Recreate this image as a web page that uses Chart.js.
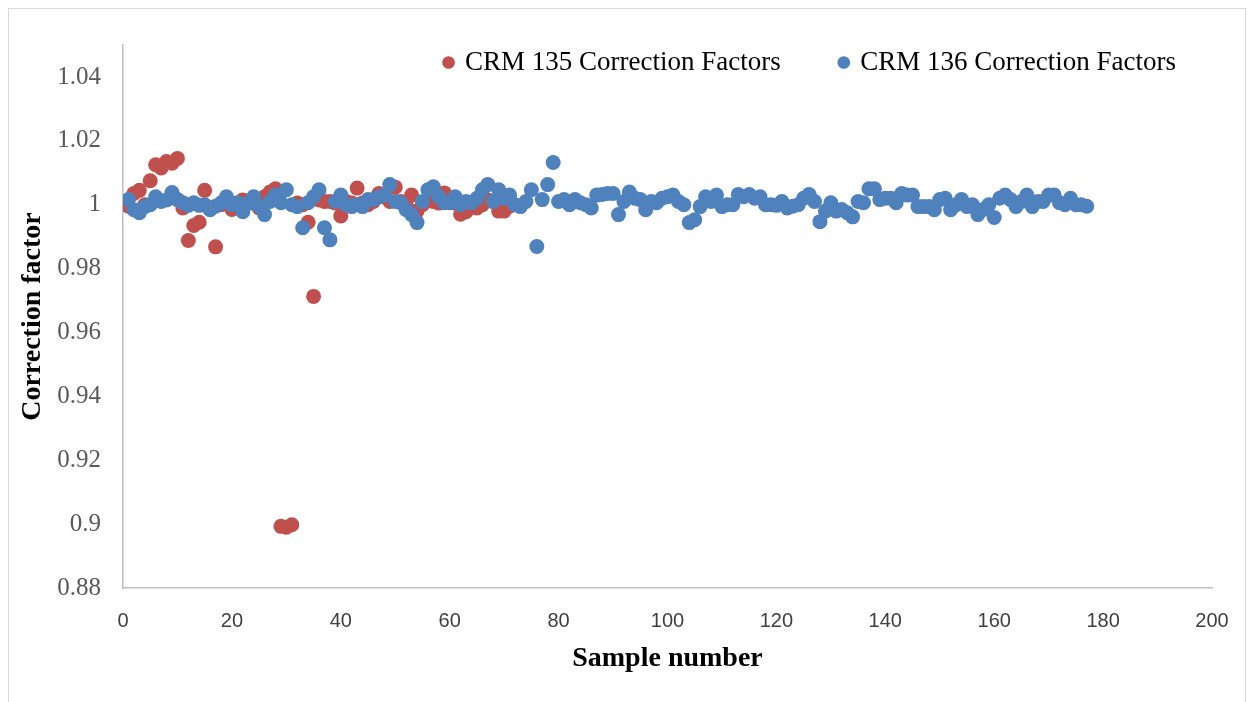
<!DOCTYPE html>
<html>
<head>
<meta charset="utf-8">
<script src="https://cdn.jsdelivr.net/npm/chart.js@4.4.1/dist/chart.umd.min.js"></script>
<style>
  body { margin: 0; background: #fff; }
</style>
</head>
<body>
<canvas id="chart" width="1250" height="702"></canvas>
<script>
// tick labels
const xTicks = [0, 20, 40, 60, 80, 100, 120, 140, 160, 180, 200];
const yTicks = [0.88, 0.9, 0.92, 0.94, 0.96, 0.98, 1, 1.02, 1.04];

// CRM 135, samples 1..71
const crm135 = [
  0.9995, 1.0035, 1.0045, 1.0, 1.0075, 1.0125, 1.0115, 1.0135, 1.013, 1.0145,
  0.999, 0.9888, 0.9935, 0.9945, 1.0045, 0.999, 0.9868, 1.0, 1.0005, 0.9985,
  1.0, 1.0015, 1.001, 1.0005, 0.999, 1.0025, 1.004, 1.005, 0.8993, 0.899,
  0.8998, 1.0005, 1.0, 0.9945, 0.9713, 1.0015, 1.001, 1.001, 1.0005, 0.9965,
  1.001, 1.0005, 1.0052, 1.0005, 1.0, 1.001, 1.0035, 1.0025, 1.001, 1.0055,
  1.001, 1.0, 1.003, 0.998, 1.0, 1.0015, 1.001, 1.0005, 1.0037, 1.001,
  1.0005, 0.997, 0.9978, 1.0, 0.999, 1.0, 1.0015, 1.001, 0.998, 0.998,
  0.9995
];

// CRM 136, samples 1..177
const crm136 = [
  1.0016, 0.9984, 0.9975, 0.9994, 1.0, 1.0025, 1.001, 1.0015, 1.0038, 1.0016,
  1.0006, 0.9998, 1.0006, 0.9998, 1.0, 0.9984, 0.9995, 1.0005, 1.0025, 1.0,
  1.0006, 0.9978, 1.0005, 1.0025, 0.9995, 0.9969, 1.001, 1.003, 1.0006, 1.0047,
  1.0, 0.9994, 0.9928, 1.0006, 1.0025, 1.0047, 0.9928, 0.989, 1.001, 1.003,
  1.0, 0.9994, 1.0, 0.9994, 1.0016, 1.0016, 1.0025, 1.003, 1.0063, 1.001,
  1.0006, 0.9984, 0.9969, 0.9944, 1.001, 1.0047, 1.0056, 1.0025, 1.0006, 1.0006,
  1.0025, 1.0, 1.001, 1.0006, 1.002, 1.0047, 1.0063, 1.001, 1.0047, 1.002,
  1.003, 1.0, 0.9994, 1.001, 1.0047, 0.9869, 1.0016, 1.0063, 1.0132, 1.001,
  1.0016, 1.0, 1.0016, 1.0006, 1.0, 0.999, 1.0030, 1.0032, 1.0035, 1.0035,
  0.9969, 1.001, 1.0040, 1.002, 1.0016, 0.9984, 1.001, 1.0006, 1.002, 1.0025,
  1.0030, 1.001, 1.0, 0.9944, 0.9953, 0.9994, 1.0025, 1.001, 1.003, 0.9994,
  1.0, 1.0, 1.0032, 1.0025, 1.0032, 1.002, 1.0025, 1.0, 1.0, 0.9998,
  1.001, 0.999, 0.9995, 1.0, 1.002, 1.0032, 1.001, 0.9947, 0.998, 1.0006,
  0.998, 0.9985, 0.9975, 0.9962, 1.001, 1.0006, 1.005, 1.005, 1.0016, 1.002,
  1.002, 1.0006, 1.0035, 1.003, 1.003, 0.9994, 0.9994, 0.9994, 0.9984, 1.0016,
  1.002, 0.9984, 1.0, 1.0016, 0.9994, 1.0, 0.9969, 0.9985, 1.0, 0.996,
  1.002, 1.003, 1.0016, 0.9994, 1.001, 1.003, 0.9994, 1.001, 1.001, 1.003,
  1.003, 1.0006, 1.0, 1.002, 1.0, 1.0, 0.9995
];

const toPoints = (arr) => arr.map((v, i) => ({ x: i + 1, y: v }));

// white background + light frame round the whole chart
const frame = {
  id: "frame",
  beforeDraw(chart) {
    const ctx = chart.ctx;
    ctx.save();
    ctx.fillStyle = "#ffffff";
    ctx.fillRect(0, 0, chart.width, chart.height);
    ctx.strokeStyle = "#d9d9d9";
    ctx.lineWidth = 1;
    ctx.strokeRect(8.5, 8.5, 1237, 720);
    ctx.restore();
  }
};

// legend sits over the plot like in Excel: take no layout space, then move it up
const legendOverlay = {
  id: "legendOverlay",
  beforeInit(chart) {
    const fit = chart.legend.fit;
    chart.legend.fit = function () {
      fit.bind(chart.legend)();
      this._fullHeight = this.height;
      this.height = 0;
    };
  },
  afterLayout(chart) {
    const lg = chart.legend;
    lg.top = -11;
    lg.height = lg._fullHeight;
    lg.bottom = lg.top + lg._fullHeight;
    lg.right = 1236;
  }
};

new Chart(document.getElementById("chart"), {
  type: "scatter",
  data: {
    datasets: [
      {
        label: "CRM 135 Correction Factors",
        data: toPoints(crm135),
        backgroundColor: "#C0504D",
        borderColor: "#C0504D",
        pointRadius: 7.5,
        pointBorderWidth: 0,
        order: 1
      },
      {
        label: "CRM 136 Correction Factors",
        data: toPoints(crm136),
        backgroundColor: "#4F81BD",
        borderColor: "#4F81BD",
        pointRadius: 7.5,
        pointBorderWidth: 0,
        order: 0
      }
    ]
  },
  options: {
    responsive: false,
    animation: false,
    layout: { padding: { top: 45, right: 38, left: 10, bottom: 0 } },
    plugins: {
      tooltip: { enabled: false },
      legend: {
        position: "top",
        align: "end",
        labels: {
          usePointStyle: true,
          pointStyle: "circle",
          boxWidth: 6,
          boxHeight: 9,
          padding: 60,
          color: "#000",
          font: { family: "'Liberation Serif', serif", size: 27 },
          sort: (a, b) => a.datasetIndex - b.datasetIndex
        }
      }
    },
    scales: {
      x: {
        type: "linear",
        min: 0,
        max: 200,
        afterBuildTicks: (s) => { s.ticks = xTicks.map(v => ({ value: v })); },
        afterFit: (s) => { s.height = 114; },
        grid: { display: false },
        border: { display: true, color: "#bfbfbf", width: 1.5 },
        ticks: {
          padding: 13,
          color: "#404040",
          maxRotation: 0,
          font: { family: "'Liberation Sans', sans-serif", size: 20 }
        },
        title: {
          display: true,
          text: "Sample number",
          color: "#000",
          padding: { top: 0, bottom: 26 },
          font: { family: "'Liberation Serif', serif", size: 28, weight: "bold" }
        }
      },
      y: {
        min: 0.88,
        max: 1.05,
        afterBuildTicks: (s) => { s.ticks = yTicks.map(v => ({ value: v })); },
        afterFit: (s) => { s.width = 113; },
        grid: { display: false },
        border: { display: true, color: "#bfbfbf", width: 1.5 },
        ticks: {
          padding: 14,
          color: "#595959",
          font: { family: "'Liberation Serif', serif", size: 25 },
          callback: (v) => String(Number(v.toFixed(2)))
        },
        title: {
          display: true,
          text: "Correction factor",
          color: "#000",
          padding: { top: 6, bottom: 0 },
          font: { family: "'Liberation Serif', serif", size: 28, weight: "bold" }
        }
      }
    }
  },
  plugins: [frame, legendOverlay]
});
</script>
</body>
</html>
